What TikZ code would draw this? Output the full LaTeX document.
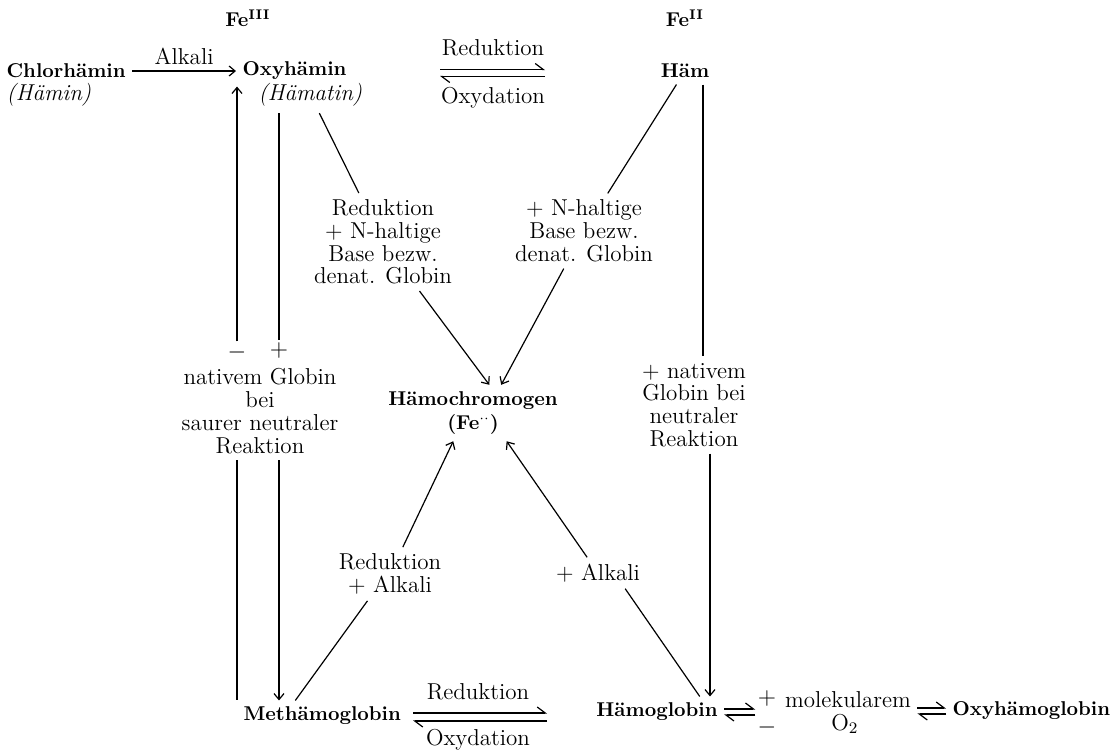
\documentclass[tikz,border=0pt]{standalone}
\usepackage{tikz}
\usetikzlibrary{arrows.meta, positioning}
\tikzstyle{cmpd} = [font=\fontsize{10}{12.2}\selectfont\bfseries, inner sep=3pt]
\tikzstyle{note} = [align=center, inner sep=3pt]
\tikzstyle{sign} = [inner sep=1pt]
\tikzstyle{line} = [draw, -{Straight Barb[length=3pt, width=5pt]}]
\tikzstyle{bare} = [draw]
\tikzstyle{harp} = [draw, -{Straight Barb[left, length=4pt, width=6pt]}]

\begin{document}
\begin{tikzpicture}[x=0.5pt, y=-0.5pt, line width=0.6pt, font=\fontsize{11.5}{11.4}\selectfont]
    \useasboundingbox (0,0) rectangle (1119,751);
    % Nodes
    \node [cmpd] (fe3) at (248,18) {Fe\textsuperscript{III}};
    \node [cmpd] (fe2) at (685,18) {Fe\textsuperscript{II}};
    \node [cmpd, anchor=west] (chlor) at (0,71) {Chlorhämin};
    \node [note, anchor=west, font=\fontsize{11.5}{11.4}\selectfont\itshape] (haemin) at (0,95) {(Hämin)};
    \node [cmpd, anchor=west] (oxy) at (236,71) {Oxyhämin};
    \node [note, anchor=west, font=\fontsize{11.5}{11.4}\selectfont\itshape] (haematin) at (252,95) {(Hämatin)};
    \node [cmpd] (haem) at (685,71) {Häm};
    \coordinate (eqtopL) at (440,73);
    \coordinate (eqtopR) at (545,73);
    \node [note] (redtop) at (493,48) {Reduktion};
    \node [note] (oxdtop) at (493,98) {Oxydation};
    \node [note] (label1) at (383,242) {Reduktion\\+ N-haltige\\Base bezw.\\denat. Globin};
    \node [note] (label2) at (584,231) {+ N-haltige\\Base bezw.\\denat. Globin};
    \node [cmpd, align=center] (hchrom) at (473,413) {Hämochromogen\\(Fe$^{\cdot\cdot}$)};
    \node [sign] (minus) at (237,352) {$-$};
    \node [sign] (plus) at (279,350) {$+$};
    \node [note] (lnat) at (260,411) {nativem Globin\\bei\\saurer neutraler\\Reaktion};
    \node [note] (rnat) at (694,405) {+ nativem\\Globin bei\\neutraler\\Reaktion};
    \node [note] (lab3) at (390,574) {Reduktion\\+ Alkali};
    \node [note] (lab4) at (598,573) {+ Alkali};
    \node [cmpd, anchor=west] (metha) at (237,716) {Methämoglobin};
    \node [cmpd] (haemo) at (657,712) {Hämoglobin};
    \coordinate (eqbotL) at (413,717);
    \coordinate (eqbotR) at (547,717);
    \node [note] (redbot) at (478,692) {Reduktion};
    \node [note] (oxdbot) at (478,740) {Oxydation};
    \node [sign] (plus2) at (767,698) {$+$};
    \node [sign] (minus2) at (767,727) {$-$};
    \node [note] (molek) at (848,700) {molekularem};
    \node [note] (otwo) at (845,724) {O\textsubscript{2}};
    \node [cmpd, anchor=west] (oxyhg) at (946,711) {Oxyhämoglobin};

    % Edges
    \path [line] (chlor.east) -- node [above, note] {Alkali} (oxy.west);
    \path [harp] ([yshift=1.75pt]eqtopL) -- ([yshift=1.75pt]eqtopR);
    \path [harp] ([yshift=-1.75pt]eqtopR) -- ([yshift=-1.75pt]eqtopL);
    \path [line] (minus.north) -- (minus.north |- oxy.south);
    \path [bare] (plus.north) -- (plus.north |- haematin.south);
    \path [bare] (minus.south |- lnat.south) -- (minus.south |- metha.north);
    \path [line] (plus.south |- lnat.south) -- (plus.south |- metha.north);
    \path [bare] (haematin) -- (label1);
    \path [line] (label1) -- (hchrom.60);
    \path [bare] (haem) -- (label2);
    \path [line] (label2) -- (hchrom.45);
    \path [bare] ([xshift=9pt]haem.south) -- ([xshift=9pt]haem.south |- rnat.north);
    \path [line] ([xshift=8pt]rnat.south) -- ([xshift=8pt]rnat.south |- haemo.north);
    \path [bare] (metha.150) -- (lab3.230);
    \path [line] (lab3) -- (hchrom.235);
    \path [line] (lab4) -- (hchrom.320);
    \path [bare] (lab4.-30) -- (haemo.20);
    \path [harp] ([yshift=2pt]eqbotL) -- ([yshift=2pt]eqbotR);
    \path [harp] ([yshift=-2pt]eqbotR) -- ([yshift=-2pt]eqbotL);
    \path [harp] ([yshift=1.5pt]haemo.east) -- ([yshift=1.5pt]haemo.east -| plus2.west);
    \path [harp] ([yshift=-1.5pt]haemo.east -| plus2.west) -- ([yshift=-1.5pt]haemo.east);
    \path [harp] ([yshift=1.5pt]oxyhg.west -| molek.east) -- ([yshift=1.5pt]oxyhg.west);
    \path [harp] ([yshift=-1.5pt]oxyhg.west) -- ([yshift=-1.5pt]oxyhg.west -| molek.east);
\end{tikzpicture}
\end{document}
